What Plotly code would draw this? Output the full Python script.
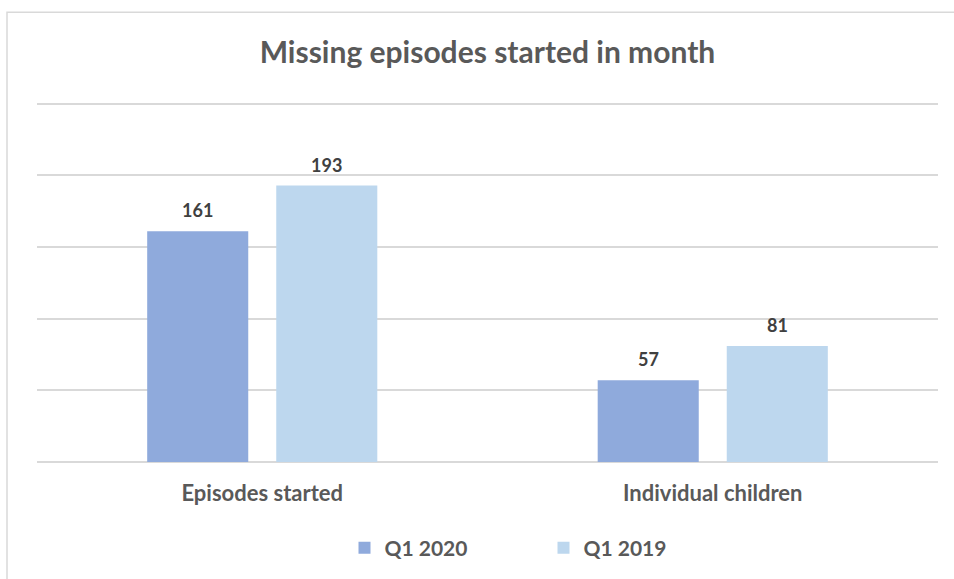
import plotly.graph_objects as go

categories = ["Episodes started", "Individual children"]
q1_2020 = [161, 57]
q1_2019 = [193, 81]
series_names = ["Q1 2020", "Q1 2019"]
colors = ["#8faadc", "#bdd7ee"]

FONT = "Lato"
PH = 362.0  # plot height px

fig = go.Figure()
for name, vals, col in zip(series_names, [q1_2020, q1_2019], colors):
    fig.add_trace(go.Bar(x=categories, y=vals, name=f"<b>{name}</b>", marker_color=col,
                         marker_line_width=0))

# data labels
for i, vals in enumerate([q1_2020, q1_2019]):
    for j, v in enumerate(vals):
        fig.add_annotation(x=categories[j], y=v, text=f"<b>{v}</b>", showarrow=False,
                           xref="x", yref="y", yanchor="bottom",
                           xshift=(-64.5 if i == 0 else 64.5), yshift=8,
                           font=dict(family=FONT, size=18, color="#404040"))

fig.update_layout(
    width=954, height=579,
    margin=dict(l=37, r=16, t=101, b=116),
    paper_bgcolor="white", plot_bgcolor="white",
    barmode="group", bargap=0.427, bargroupgap=0.217,
    title=dict(text="<b>Missing episodes started in month</b>", x=0.5, xanchor="center",
               xref="paper", y=1 - 52 / 579, yanchor="middle",
               font=dict(family=FONT, size=30, color="#595959")),
    xaxis=dict(showgrid=False, showline=False, ticks="", ticklabelstandoff=16,
               tickfont=dict(family=FONT, size=22, color="#595959"),
               tickvals=categories, ticktext=[f"<b>{c}</b>" for c in categories]),
    yaxis=dict(range=[0, 252], dtick=50, showticklabels=False, showgrid=True,
               gridcolor="#d9d9d9", gridwidth=1.5, zeroline=True,
               zerolinecolor="#d9d9d9", zerolinewidth=1.5, showline=False),
    showlegend=True,
    legend=dict(orientation="h", x=0.5 + 56 / 901, xanchor="center",
                y=-(548 - 463) / PH, yanchor="middle",
                font=dict(family=FONT, size=21, color="#595959"), entrywidth=154,
                itemwidth=30),
)

fig.add_shape(type="rect", xref="paper", yref="paper",
              x0=(7 - 37) / 901, x1=(980 - 37) / 901,
              y0=-(600 - 463) / PH, y1=(463 - 12) / PH,
              line=dict(color="#d9d9d9", width=1.5), fillcolor="rgba(0,0,0,0)", layer="below")

fig.write_html("out.html", config={"displayModeBar": False},
               post_script="document.body.style.margin='0';")
